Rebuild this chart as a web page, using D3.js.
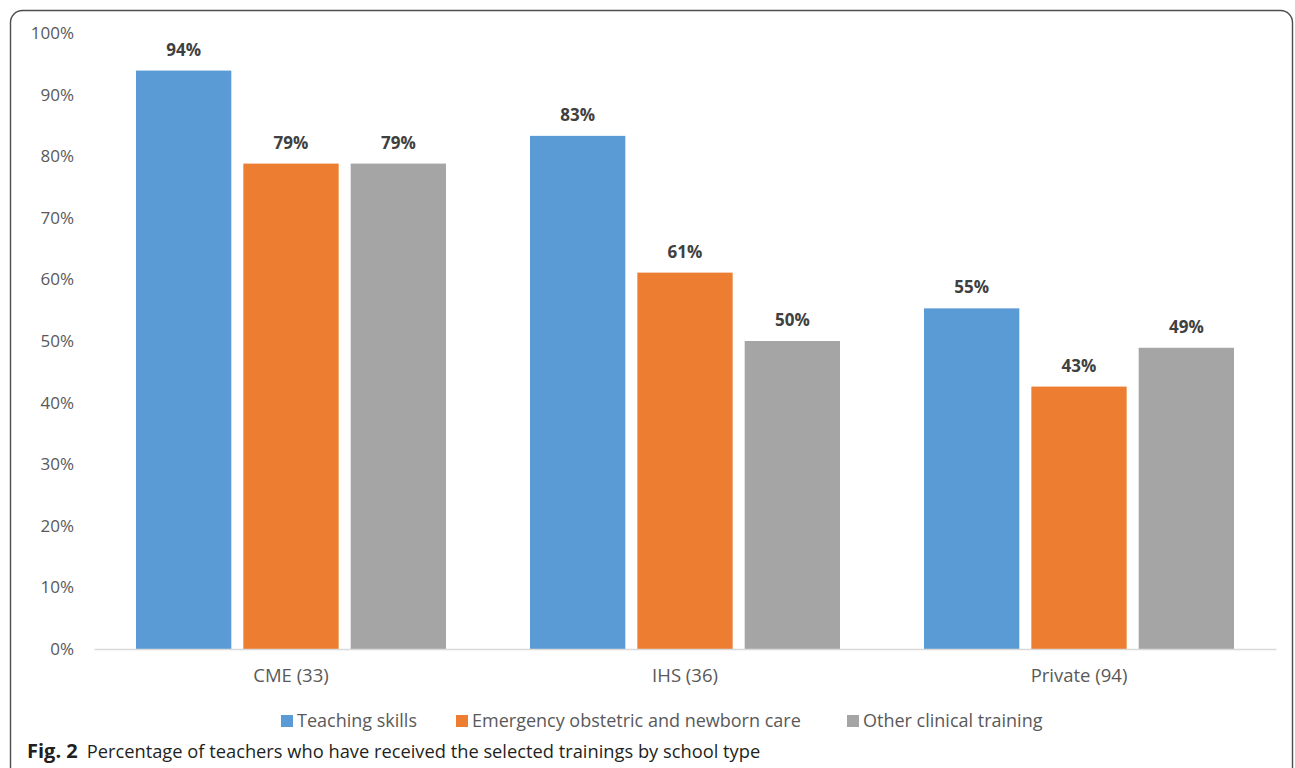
<!DOCTYPE html>
<html>
<head>
<meta charset="utf-8">
<script src="https://cdnjs.cloudflare.com/ajax/libs/d3/7.8.5/d3.min.js"></script>
<style>
	body { margin: 0; background: #fff; }
	svg { display: block; }
</style>
</head>
<body>
<div id="chart"></div>
<script>
	// school types (n in brackets)
	var categories = ['CME (33)', 'IHS (36)', 'Private (94)'];
	var seriesNames = ['Teaching skills', 'Emergency obstetric and newborn care', 'Other clinical training'];
	var teachingSkills = [93.9, 83.3, 55.3];
	var emergencyCare = [78.8, 61.1, 42.6];
	var otherClinical = [78.8, 50.0, 48.9];
	var colors = ['#5b9bd5', '#ed7d31', '#a5a5a5'];
	var yTicks = [0, 10, 20, 30, 40, 50, 60, 70, 80, 90, 100];

	var W = 1295, H = 768;
	var margin = {top: 33, right: 19, bottom: 119, left: 94};
	var width = W - margin.left - margin.right,
		height = H - margin.top - margin.bottom;

	var svg = d3.select('#chart').append('svg')
		.attr('width', W)
		.attr('height', H);

	// outer frame
	svg.append('rect')
		.attr('x', 10.5).attr('y', 10.5)
		.attr('width', 1282).attr('height', 800)
		.attr('rx', 12).attr('ry', 12)
		.attr('fill', 'none')
		.attr('stroke', '#4d4d4d')
		.attr('stroke-width', 1.4);

	var g = svg.append('g')
		.attr('transform', 'translate(' + margin.left + ',' + margin.top + ')');

	var x0 = d3.scaleBand()
		.domain(categories)
		.range([0, width])
		.paddingInner(0)
		.paddingOuter(0);

	var x1 = d3.scaleBand()
		.domain(d3.range(seriesNames.length))
		.range([42, x0.bandwidth() - 42])
		.paddingInner(0.112);

	var y = d3.scaleLinear()
		.domain([0, 100])
		.range([height, 0]);

	// y axis labels
	var yAxis = g.append('g')
		.call(d3.axisLeft(y).tickValues(yTicks).tickFormat(function (d) { return d + '%'; }).tickSize(0).tickPadding(20));
	yAxis.select('.domain').remove();
	yAxis.selectAll('text')
		.attr('font-family', 'Open Sans, sans-serif')
		.attr('font-size', 17)
		.attr('fill', '#595959');

	var rows = [teachingSkills, emergencyCare, otherClinical];

	categories.forEach(function (cat, ci) {
		var grp = g.append('g').attr('transform', 'translate(' + x0(cat) + ',0)');
		rows.forEach(function (vals, si) {
			grp.append('rect')
				.attr('x', x1(si))
				.attr('y', y(vals[ci]))
				.attr('width', x1.bandwidth())
				.attr('height', height - y(vals[ci]))
				.attr('fill', colors[si]);
			grp.append('text')
				.attr('x', x1(si) + x1.bandwidth() / 2)
				.attr('y', y(vals[ci]) - 15)
				.attr('text-anchor', 'middle')
				.attr('font-family', 'Open Sans, sans-serif')
				.attr('font-weight', 'bold')
				.attr('font-size', 17)
				.attr('fill', '#404040')
				.text(Math.round(vals[ci]) + '%');
		});
	});

	// x axis
	var xAxis = g.append('g')
		.attr('transform', 'translate(0,' + height + ')')
		.call(d3.axisBottom(x0).tickSize(0).tickPadding(20));
	xAxis.select('.domain').attr('stroke', '#d9d9d9').attr('stroke-width', 1.3);
	xAxis.selectAll('text')
		.attr('font-family', 'Open Sans, sans-serif')
		.attr('font-size', 18.5)
		.attr('fill', '#595959');

	// legend
	var legendX = [281, 456, 847];
	var legend = svg.append('g');
	seriesNames.forEach(function (name, i) {
		legend.append('rect')
			.attr('x', legendX[i]).attr('y', 715)
			.attr('width', 12).attr('height', 12)
			.attr('fill', colors[i]);
		legend.append('text')
			.attr('x', legendX[i] + 16).attr('y', 727)
			.attr('font-family', 'Open Sans, sans-serif')
			.attr('font-size', 18)
			.attr('fill', '#595959')
			.text(name);
	});

	// caption
	var cap = svg.append('text')
		.attr('x', 27).attr('y', 758)
		.attr('font-family', 'Open Sans, sans-serif')
		.attr('font-size', 18.3)
		.attr('fill', '#231f20');
	cap.append('tspan').attr('font-weight', 'bold').attr('font-size', 20).text('Fig. 2');
	cap.append('tspan').attr('dx', 9).text('Percentage of teachers who have received the selected trainings by school type');
</script>
</body>
</html>
